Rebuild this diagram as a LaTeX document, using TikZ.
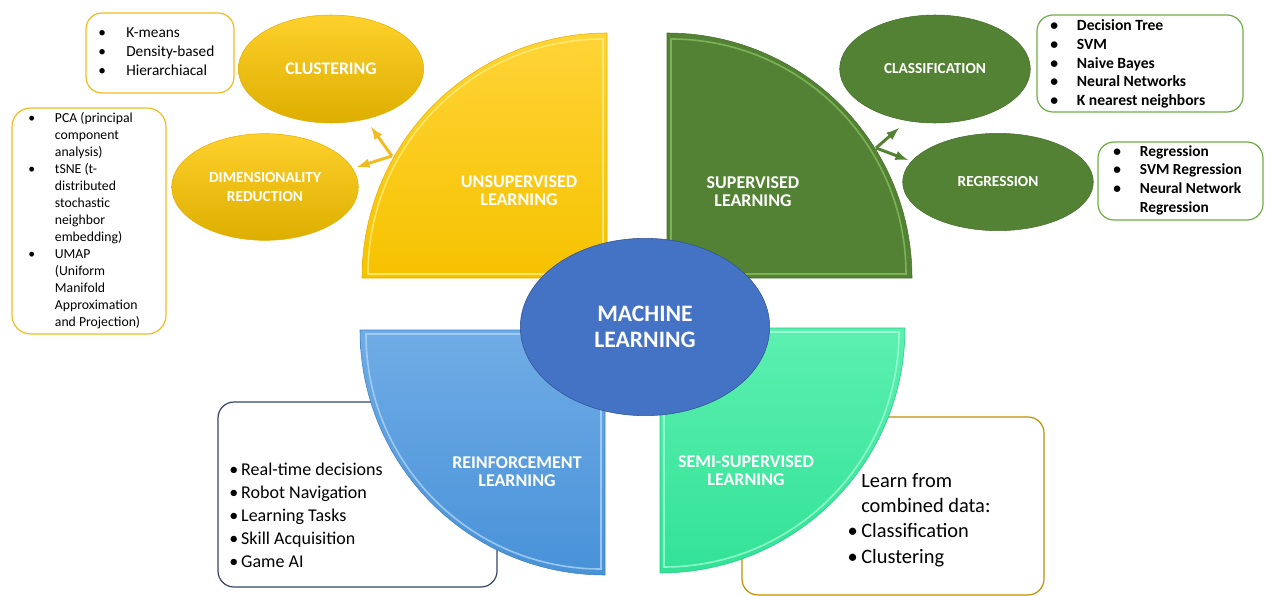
\documentclass[tikz,border=0pt]{standalone}
\usepackage{fontspec}
\setmainfont{Carlito}
\usepackage{tikz}
\usetikzlibrary{shapes.geometric}

\definecolor{ylwtop}{RGB}{255,212,55}
\definecolor{ylwbot}{RGB}{246,194,0}
\definecolor{ylwedge}{RGB}{228,176,0}
\definecolor{ylwlight}{RGB}{255,238,120}
\definecolor{ylwline}{RGB}{242,188,30}
\definecolor{grnfill}{RGB}{84,130,53}
\definecolor{grnedge}{RGB}{70,112,44}
\definecolor{grnlight}{RGB}{135,190,95}
\definecolor{grnline}{RGB}{112,173,71}
\definecolor{blutop}{RGB}{112,172,230}
\definecolor{blubot}{RGB}{72,146,216}
\definecolor{bluedge}{RGB}{62,128,196}
\definecolor{blulight}{RGB}{175,212,245}
\definecolor{navyline}{RGB}{52,72,102}
\definecolor{teatop}{RGB}{92,240,176}
\definecolor{teabot}{RGB}{50,226,150}
\definecolor{teaedge}{RGB}{40,200,130}
\definecolor{tealight}{RGB}{165,255,218}
\definecolor{goldline}{RGB}{191,144,0}
\definecolor{mlblue}{RGB}{68,114,196}
\definecolor{mledge}{RGB}{47,82,143}

\tikzset{
  bubble/.style={ellipse, inner sep=0pt, text=white, align=center,
    font=\bfseries\fontsize{11.5}{14}\selectfont},
  quadlabel/.style={text=white, align=center, inner sep=0.75pt,
    font=\bfseries\fontsize{13.5}{13.5}\selectfont},
  listtext/.style={anchor=west, inner sep=0.75pt, align=left},
  fatarrow/.style={line width=2.2pt, -latex}
}

\begin{document}
\begin{tikzpicture}[x=0.75pt,y=0.75pt,yscale=-1,xscale=1]
\useasboundingbox (0,0) rectangle (1265,596);

%Rounded Rect: reinforcement list box (under the blue quarter)
\draw [color=navyline, line width=0.9pt, rounded corners=12pt] (218,402) rectangle (497,587) ;
%Rounded Rect: semi-supervised list box (under the teal quarter)
\draw [color=goldline, line width=0.9pt, rounded corners=12pt] (742,417) rectangle (1044,595) ;

%Shape: Quarter [id:unsup]
\draw [color=ylwedge, top color=ylwtop, bottom color=ylwbot]  (607,278) -- (362,278) .. controls (362,142.7) and (471.7,33) .. (607,33) -- cycle ;
\draw [color=ylwlight, line width=1.2pt, opacity=0.8]  (603,274) -- (368,274) .. controls (368,144.2) and (473.2,39) .. (603,39) -- cycle ;
%Shape: Quarter [id:sup]
\draw [color=grnedge, fill=grnfill]  (667,33) .. controls (802.3,33) and (912,142.7) .. (912,278) -- (667,278) -- cycle ;
\draw [color=grnlight, line width=1.2pt, opacity=0.8]  (671,39) .. controls (800.8,39) and (906,144.2) .. (906,274) -- (671,274) -- cycle ;
%Shape: Quarter [id:reinf]
\draw [color=bluedge, top color=blutop, bottom color=blubot]  (605,330) -- (360,330) .. controls (360,465.3) and (469.7,575) .. (605,575) -- cycle ;
\draw [color=blulight, line width=1.2pt, opacity=0.8]  (601,334) -- (366,334) .. controls (366,463.8) and (471.2,569) .. (601,569) -- cycle ;
%Shape: Quarter [id:semi]
\draw [color=teaedge, top color=teatop, bottom color=teabot]  (660,328) -- (905,328) .. controls (905,463.3) and (795.3,573) .. (660,573) -- cycle ;
\draw [color=tealight, line width=1.2pt, opacity=0.8]  (664,332) -- (899,332) .. controls (899,461.8) and (793.8,567) .. (664,567) -- cycle ;

% Text Node
\node [quadlabel] (unsuplbl) at (519,191) {UNSUPERVISED\\LEARNING};
% Text Node
\node [quadlabel] (suplbl) at (753,192) {SUPERVISED\\LEARNING};
% Text Node
\node [quadlabel] (reinflbl) at (517,472) {REINFORCEMENT\\LEARNING};
% Text Node
\node [quadlabel] (semilbl) at (746,471) {SEMI-SUPERVISED\\LEARNING};

%Shape: Ellipse [id:ml]
\node [ellipse, draw=mledge, fill=mlblue, text=white, align=center, inner sep=0pt,
  minimum width=187pt, minimum height=133pt, font=\bfseries\fontsize{17.7}{20}\selectfont] (ml) at (645,327) {MACHINE\\LEARNING};

%Shape: Ellipse [id:clus]
\node [bubble, draw=ylwedge, top color=ylwtop!80!ylwbot, bottom color=ylwbot!90!black, minimum width=139pt, minimum height=81pt, font=\bfseries\fontsize{13.3}{14}\selectfont] (clus) at (331,69) {CLUSTERING};
%Shape: Ellipse [id:dimred]
\node [bubble, draw=ylwedge, top color=ylwtop!80!ylwbot, bottom color=ylwbot!90!black, minimum width=140pt, minimum height=80pt] (dimred) at (265,187) {DIMENSIONALITY\\REDUCTION};
%Shape: Ellipse [id:classif]
\node [bubble, draw=grnedge, fill=grnfill, minimum width=143pt, minimum height=81pt] (classif) at (935,69) {CLASSIFICATION};
%Shape: Ellipse [id:regr]
\node [bubble, draw=grnedge, fill=grnfill, minimum width=143pt, minimum height=73pt] (regr) at (998,182) {REGRESSION};

%Arrows from the quarters
\coordinate (ufork) at (392,156);
\coordinate (utip1) at (371,127);
\coordinate (utip2) at (357,167);
\draw [fatarrow, color=ylwline] (ufork) -- (utip1);
\draw [fatarrow, color=ylwline] (ufork) -- (utip2);
\coordinate (sfork) at (876,148);
\coordinate (stip1) at (899,128);
\coordinate (stip2) at (908,160);
\draw [fatarrow, color=grnfill] (sfork) -- (stip1);
\draw [fatarrow, color=grnfill] (sfork) -- (stip2);

%Rounded Rect: list boxes
\draw [color=ylwline, line width=0.9pt, rounded corners=12pt] (86,13) rectangle (234,93) ;
\draw [color=ylwline, line width=0.9pt, rounded corners=14pt] (12,108) rectangle (166,334) ;
\draw [color=grnline, line width=0.9pt, rounded corners=12pt] (1037,15) rectangle (1243,112) ;
\draw [color=grnline, line width=0.9pt, rounded corners=12pt] (1098,142) rectangle (1263,220) ;

% Text Node
\node [listtext, font=\fontsize{11.5}{14.25}\selectfont] (cluslist) at (97,52)
  {\makebox[21pt][l]{\textbullet}K-means\\
   \makebox[21pt][l]{\textbullet}Density-based\\
   \makebox[21pt][l]{\textbullet}Hierarchiacal};
% Text Node
\node [listtext, font=\fontsize{10.3}{12.75}\selectfont] (dimlist) at (27,221)
  {\makebox[20pt][l]{\textbullet}PCA (principal\\
   \hspace*{20pt}component\\
   \hspace*{20pt}analysis)\\
   \makebox[20pt][l]{\textbullet}tSNE (t-\\
   \hspace*{20pt}distributed\\
   \hspace*{20pt}stochastic\\
   \hspace*{20pt}neighbor\\
   \hspace*{20pt}embedding)\\
   \makebox[20pt][l]{\textbullet}UMAP\\
   \hspace*{20pt}(Uniform\\
   \hspace*{20pt}Manifold\\
   \hspace*{20pt}Approximation\\
   \hspace*{20pt}and Projection)};
% Text Node
\node [listtext, font=\bfseries\fontsize{11.7}{14}\selectfont] (classlist) at (1049,64)
  {\makebox[20pt][l]{\textbullet}Decision Tree\\
   \makebox[20pt][l]{\textbullet}SVM\\
   \makebox[20pt][l]{\textbullet}Naive Bayes\\
   \makebox[20pt][l]{\textbullet}Neural Networks\\
   \makebox[20pt][l]{\textbullet}K nearest neighbors};
% Text Node
\node [listtext, font=\bfseries\fontsize{11.5}{14}\selectfont] (regrlist) at (1112,180)
  {\makebox[20pt][l]{\textbullet}Regression\\
   \makebox[20pt][l]{\textbullet}SVM Regression\\
   \makebox[20pt][l]{\textbullet}Neural Network\\
   \hspace*{20pt}Regression};
% Text Node
\node [listtext, font=\fontsize{13.5}{17.25}\selectfont] (reinflist) at (228,515)
  {\textbullet\,Real-time decisions\\
   \textbullet\,Robot Navigation\\
   \textbullet\,Learning Tasks\\
   \textbullet\,Skill Acquisition\\
   \textbullet\,Game AI};
% Text Node
\node [listtext, font=\fontsize{15.3}{19}\selectfont] (semilist) at (860,520)
  {Learn from\\
   combined data:\\
   \makebox[0pt][r]{\textbullet\,}Classification\\
   \makebox[0pt][r]{\textbullet\,}Clustering};

\end{tikzpicture}
\end{document}
